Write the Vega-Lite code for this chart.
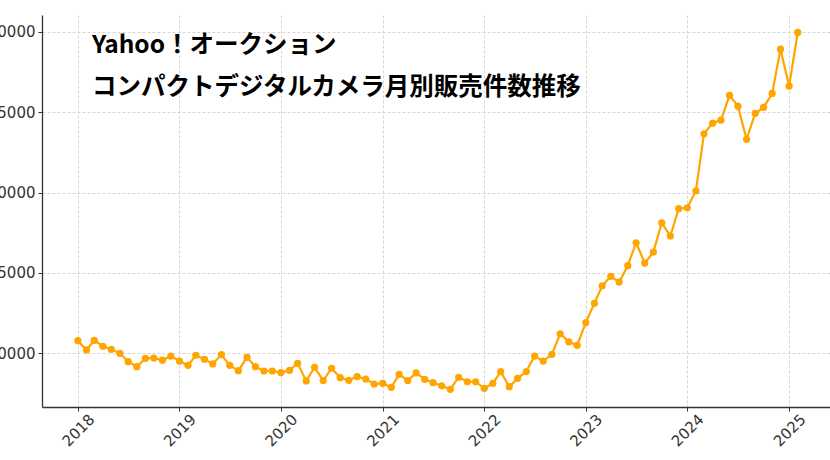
{
  "$schema": "https://vega.github.io/schema/vega-lite/v6.json",
  "autosize": "none",
  "width": 788,
  "height": 392,
  "padding": {"left": 42, "top": 15, "right": 0, "bottom": 53},
  "background": "white",
  "title": {
    "text": ["Yahoo！オークション", "コンパクトデジタルカメラ月別販売件数推移"],
    "anchor": "start",
    "frame": "group",
    "orient": "top",
    "baseline": "top",
    "offset": 0,
    "dx": 50,
    "dy": 85,
    "lineHeight": 42,
    "font": "Noto Sans CJK JP",
    "fontSize": 24.5,
    "fontWeight": "bold",
    "color": "#000000"
  },
  "data": {
    "values": [
      {"month": "2018-01-01", "sales": 10770}, {"month": "2018-02-01", "sales": 10190}, {"month": "2018-03-01", "sales": 10790},
      {"month": "2018-04-01", "sales": 10420}, {"month": "2018-05-01", "sales": 10230}, {"month": "2018-06-01", "sales": 9980},
      {"month": "2018-07-01", "sales": 9460}, {"month": "2018-08-01", "sales": 9150}, {"month": "2018-09-01", "sales": 9670},
      {"month": "2018-10-01", "sales": 9690}, {"month": "2018-11-01", "sales": 9550}, {"month": "2018-12-01", "sales": 9810},
      {"month": "2019-01-01", "sales": 9500}, {"month": "2019-02-01", "sales": 9230}, {"month": "2019-03-01", "sales": 9860},
      {"month": "2019-04-01", "sales": 9610}, {"month": "2019-05-01", "sales": 9320}, {"month": "2019-06-01", "sales": 9900},
      {"month": "2019-07-01", "sales": 9230}, {"month": "2019-08-01", "sales": 8900}, {"month": "2019-09-01", "sales": 9730},
      {"month": "2019-10-01", "sales": 9150}, {"month": "2019-11-01", "sales": 8880}, {"month": "2019-12-01", "sales": 8880},
      {"month": "2020-01-01", "sales": 8780}, {"month": "2020-02-01", "sales": 8920}, {"month": "2020-03-01", "sales": 9360},
      {"month": "2020-04-01", "sales": 8260}, {"month": "2020-05-01", "sales": 9110}, {"month": "2020-06-01", "sales": 8280},
      {"month": "2020-07-01", "sales": 9050}, {"month": "2020-08-01", "sales": 8460}, {"month": "2020-09-01", "sales": 8300},
      {"month": "2020-10-01", "sales": 8530}, {"month": "2020-11-01", "sales": 8380}, {"month": "2020-12-01", "sales": 8070},
      {"month": "2021-01-01", "sales": 8110}, {"month": "2021-02-01", "sales": 7860}, {"month": "2021-03-01", "sales": 8670},
      {"month": "2021-04-01", "sales": 8280}, {"month": "2021-05-01", "sales": 8760}, {"month": "2021-06-01", "sales": 8360},
      {"month": "2021-07-01", "sales": 8150}, {"month": "2021-08-01", "sales": 7960}, {"month": "2021-09-01", "sales": 7740},
      {"month": "2021-10-01", "sales": 8490}, {"month": "2021-11-01", "sales": 8210}, {"month": "2021-12-01", "sales": 8210},
      {"month": "2022-01-01", "sales": 7800}, {"month": "2022-02-01", "sales": 8110}, {"month": "2022-03-01", "sales": 8840},
      {"month": "2022-04-01", "sales": 7900}, {"month": "2022-05-01", "sales": 8420}, {"month": "2022-06-01", "sales": 8840},
      {"month": "2022-07-01", "sales": 9810}, {"month": "2022-08-01", "sales": 9500}, {"month": "2022-09-01", "sales": 9920},
      {"month": "2022-10-01", "sales": 11200}, {"month": "2022-11-01", "sales": 10700}, {"month": "2022-12-01", "sales": 10480},
      {"month": "2023-01-01", "sales": 11900}, {"month": "2023-02-01", "sales": 13100}, {"month": "2023-03-01", "sales": 14190},
      {"month": "2023-04-01", "sales": 14780}, {"month": "2023-05-01", "sales": 14420}, {"month": "2023-06-01", "sales": 15440},
      {"month": "2023-07-01", "sales": 16870}, {"month": "2023-08-01", "sales": 15600}, {"month": "2023-09-01", "sales": 16290},
      {"month": "2023-10-01", "sales": 18110}, {"month": "2023-11-01", "sales": 17290}, {"month": "2023-12-01", "sales": 18990},
      {"month": "2024-01-01", "sales": 19050}, {"month": "2024-02-01", "sales": 20110}, {"month": "2024-03-01", "sales": 23660},
      {"month": "2024-04-01", "sales": 24320}, {"month": "2024-05-01", "sales": 24510}, {"month": "2024-06-01", "sales": 26050},
      {"month": "2024-07-01", "sales": 25380}, {"month": "2024-08-01", "sales": 23310}, {"month": "2024-09-01", "sales": 24930},
      {"month": "2024-10-01", "sales": 25300}, {"month": "2024-11-01", "sales": 26170}, {"month": "2024-12-01", "sales": 28930},
      {"month": "2025-01-01", "sales": 26630}, {"month": "2025-02-01", "sales": 29970}
    ]
  },
  "mark": {
    "type": "line",
    "color": "#FFA500",
    "strokeWidth": 2.2,
    "clip": false,
    "point": {"filled": true, "color": "#FFA500", "size": 52, "opacity": 1}
  },
  "encoding": {
    "x": {
      "field": "month",
      "type": "temporal",
      "scale": {
        "type": "utc",
        "domain": [
          {"year": 2017, "month": 8, "date": 25, "utc": true},
          {"year": 2025, "month": 5, "date": 28, "utc": true}
        ]
      },
      "axis": {
        "title": null,
        "format": "%Y",
        "tickCount": {"interval": "year", "step": 1},
        "labelAngle": -45,
        "labelAlign": "center",
        "labelBaseline": "middle",
        "labelPadding": 19,
        "labelFlush": false,
        "labelOverlap": false
      }
    },
    "y": {
      "field": "sales",
      "type": "quantitative",
      "scale": {"domain": [6636, 31059], "nice": false, "zero": false},
      "axis": {
        "title": null,
        "values": [10000, 15000, 20000, 25000, 30000],
        "format": "d",
        "labelPadding": 3
      }
    }
  },
  "config": {
    "view": {"stroke": null},
    "axis": {
      "domainColor": "#333333",
      "domainWidth": 1.3,
      "tickColor": "#333333",
      "tickSize": 4,
      "tickWidth": 1,
      "labelFont": "DejaVu Sans",
      "labelFontSize": 15,
      "labelColor": "#333333",
      "grid": true,
      "gridColor": "#cccccc",
      "gridDash": [3, 2],
      "gridWidth": 0.8
    }
  }
}
